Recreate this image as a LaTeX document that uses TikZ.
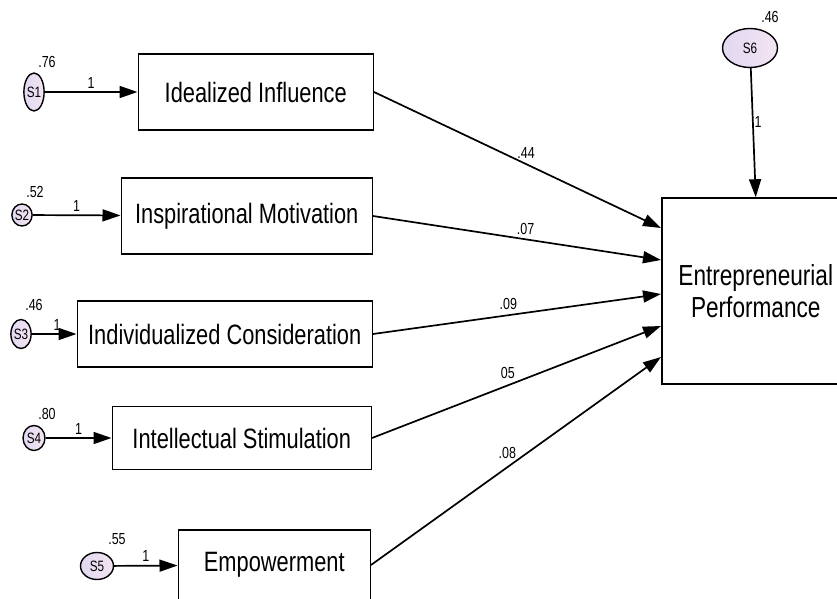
\documentclass[tikz,border=0pt]{standalone}
\usepackage{fontspec}
\setmainfont{Liberation Sans}[FakeStretch=0.78]
\usetikzlibrary{arrows.meta,calc,positioning,shapes.geometric}
\definecolor{ErrLilac}{HTML}{E2D8F0}
\definecolor{ErrPink}{HTML}{F3E4F3}

\begin{document}
\begin{tikzpicture}[
      x=1pt,y=-1pt,
      font=\fontsize{28}{32}\selectfont,
      factor/.style={draw=black,line width=1.5pt,minimum height=76pt,align=center,inner sep=0pt},
      err/.style={ellipse,draw=black,line width=1.4pt,left color=ErrLilac,right color=ErrPink,inner sep=0pt,font=\fontsize{15}{17}\selectfont},
      coef/.style={font=\fontsize{16}{18}\selectfont,inner sep=1pt},
      link/.style={-{Triangle[length=18pt,width=12pt]},line width=1.7pt}
    ]
      \useasboundingbox (0,0) rectangle (837,599);
      \node[factor,minimum width=235pt,anchor=east] (ii) at (374,92) {Idealized Influence};
      \node[factor,minimum width=251pt,anchor=east] (im) at (373,216) {Inspirational Motivation};
      \node[factor,minimum width=295pt,minimum height=66pt,anchor=east] (ic) at (373,334) {Individualized Consideration};
      \node[factor,minimum width=259pt,minimum height=63pt,anchor=east] (is) at (372,438) {Intellectual Stimulation};
      \node[factor,minimum width=192pt,minimum height=70pt,anchor=east] (em) at (371,565) {Empowerment};
      \node[factor,minimum width=188pt,minimum height=186pt,anchor=west,font=\fontsize{29}{32}\selectfont] (ep) at (661,291) {Entrepreneurial\\Performance};

      \node[err,minimum width=15pt,minimum height=38pt] (s1) at (34,92) {S1};
      \node[err,minimum width=18pt,minimum height=22pt] (s2) at (22,215) {S2};
      \node[err,minimum width=13pt,minimum height=29pt] (s3) at (21,334) {S3};
      \node[err,minimum width=22pt,minimum height=25pt] (s4) at (34,438) {S4};
      \node[err,minimum width=33pt,minimum height=27pt] (s5) at (97,566) {S5};
      \node[err,minimum width=55pt,minimum height=39pt] (s6) at (750,48) {S6};

      \node[coef] (v1) at (47,62) {.76};
      \node[coef] (v2) at (35,192) {.52};
      \node[coef] (v3) at (34,305) {.46};
      \node[coef] (v4) at (47,414) {.80};
      \node[coef] (v5) at (117,539) {.55};
      \node[coef] (v6) at (770,17) {.46};

      \draw[link] (s1) -- node[coef,above=2pt] (w1) {1} (ii);
      \draw[link] (s2) -- node[coef,above=2pt] (w2) {1} (im);
      \draw[link] (s3) -- node[coef,above=2pt,xshift=3pt] (w3) {1} (ic);
      \draw[link] (s4) -- node[coef,above=2pt] (w4) {1} (is);
      \draw[link] (s5) -- node[coef,above=2pt] (w5) {1} (em);
      \draw[link] (s6) -- node[coef,right,pos=0.42] (w6) {1} (ep.north);

      \draw[link] (ii.east) -- node[coef,pos=0.53,above=4pt] (b1) {.44} ([yshift=63pt]ep.west);
      \draw[link] (im.east) -- node[coef,pos=0.53,above=3pt] (b2) {.07} ([yshift=31pt]ep.west);
      \draw[link] (ic.east) -- node[coef,pos=0.47,above=4pt] (b3) {.09} ([yshift=-3pt]ep.west);
      \draw[link] (is.east) -- node[coef,pos=0.47,above=5pt] (b4) {05} ([yshift=-35pt]ep.west);
      \draw[link] (em.east) -- node[coef,pos=0.47,above=7pt] (b5) {.08} ([yshift=-66pt]ep.west);
    \end{tikzpicture}
\end{document}
